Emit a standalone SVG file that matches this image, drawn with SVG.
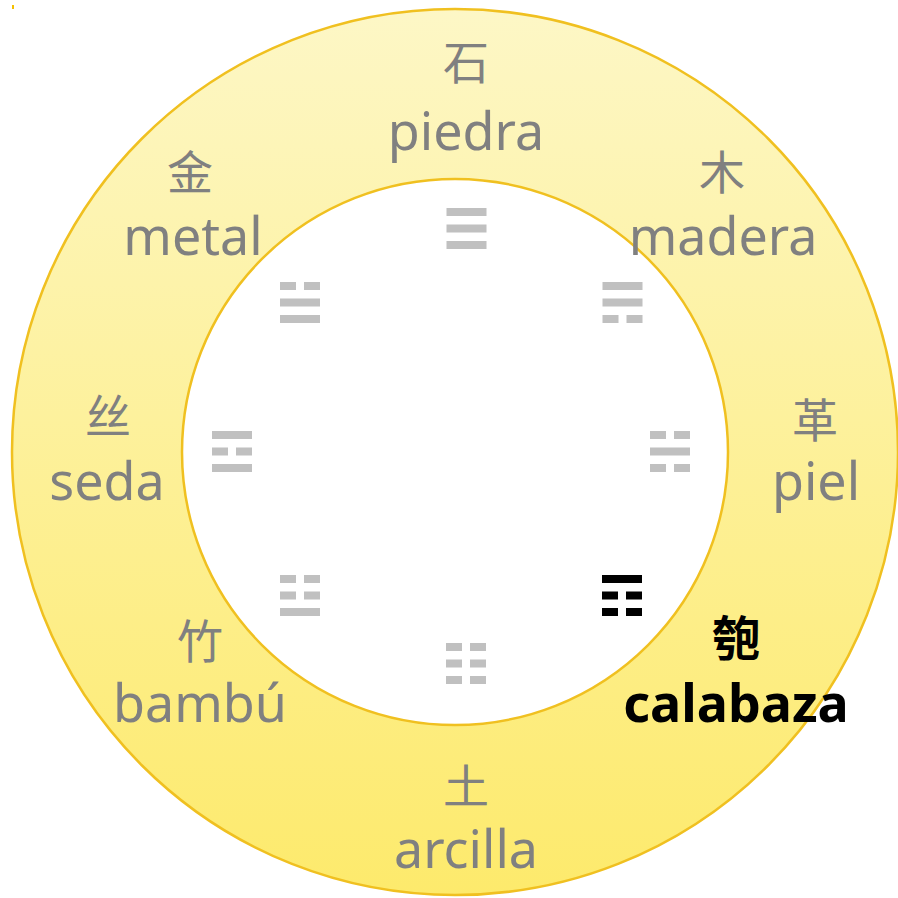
<svg xmlns="http://www.w3.org/2000/svg" width="898" height="898" viewBox="0 0 898 898">
<defs>
<linearGradient id="ring" x1="0" y1="0" x2="0" y2="1">
<stop offset="0" stop-color="#fdf7c6"/>
<stop offset="1" stop-color="#fdea6c"/>
</linearGradient>
<g id="yang"><rect x="-20" y="-4" width="40" height="8"/></g>
<g id="yin"><rect x="-20" y="-4" width="16" height="8"/><rect x="4" y="-4" width="16" height="8"/></g>
</defs>
<style>
.lat{font-family:"Noto Sans","Open Sans",sans-serif;font-size:52px;fill:#808080;text-anchor:middle}
.cjk{font-family:"Noto Sans CJK SC",sans-serif;font-size:46px;fill:#808080;text-anchor:middle}
.hl{fill:#000;font-weight:bold}
.tri{fill:#c0c0c0}
.tri.on{fill:#000}
</style>
<rect width="898" height="898" fill="#fff"/>
<rect x="12" y="5" width="2" height="4" fill="#f5c000"/>
<g id="rings">
<circle cx="455" cy="452" r="443" fill="url(#ring)" stroke="#f0c020" stroke-width="2.5"/>
<circle cx="455" cy="452" r="273" fill="#fff" stroke="#f0c020" stroke-width="2.5"/>
</g>
<g id="n-piedra"><text class="cjk" x="466" y="79">石</text><text class="lat" x="466" y="150">piedra</text>
<g class="tri" transform="translate(466.5,212)"><use href="#yang"/><use href="#yang" y="16.5"/><use href="#yang" y="33"/></g></g>
<g id="n-madera"><text class="cjk" x="722" y="189">木</text><text class="lat" x="723" y="255">madera</text>
<g class="tri" transform="translate(622.5,286)"><use href="#yang"/><use href="#yang" y="16.5"/><use href="#yin" y="33"/></g></g>
<g id="n-piel"><text class="cjk" x="815" y="437">革</text><text class="lat" x="816" y="500">piel</text>
<g class="tri" transform="translate(670,435)"><use href="#yin"/><use href="#yang" y="16.5"/><use href="#yin" y="33"/></g></g>
<g id="n-calabaza"><text class="cjk hl" x="736" y="656" style="font-size:48px">匏</text><text class="lat hl" x="736" y="722">calabaza</text>
<g class="tri on" transform="translate(622,579)"><use href="#yang"/><use href="#yin" y="16.5"/><use href="#yin" y="33"/></g></g>
<g id="n-arcilla"><text class="cjk" x="466" y="803">土</text><text class="lat" x="466" y="868">arcilla</text>
<g class="tri" transform="translate(466,647)"><use href="#yin"/><use href="#yin" y="16.5"/><use href="#yin" y="33"/></g></g>
<g id="n-bambu"><text class="cjk" x="200" y="658">竹</text><text class="lat" x="200" y="722">bambú</text>
<g class="tri" transform="translate(300,579)"><use href="#yin"/><use href="#yin" y="16.5"/><use href="#yang" y="33"/></g></g>
<g id="n-seda"><text class="cjk" x="108" y="433">丝</text><text class="lat" x="107" y="500">seda</text>
<g class="tri" transform="translate(232,435)"><use href="#yang"/><use href="#yin" y="16.5"/><use href="#yang" y="33"/></g></g>
<g id="n-metal"><text class="cjk" x="190" y="189">金</text><text class="lat" x="193" y="255">metal</text>
<g class="tri" transform="translate(300,286)"><use href="#yin"/><use href="#yang" y="16.5"/><use href="#yang" y="33"/></g></g>
<g id="connectors"/>
</svg>
